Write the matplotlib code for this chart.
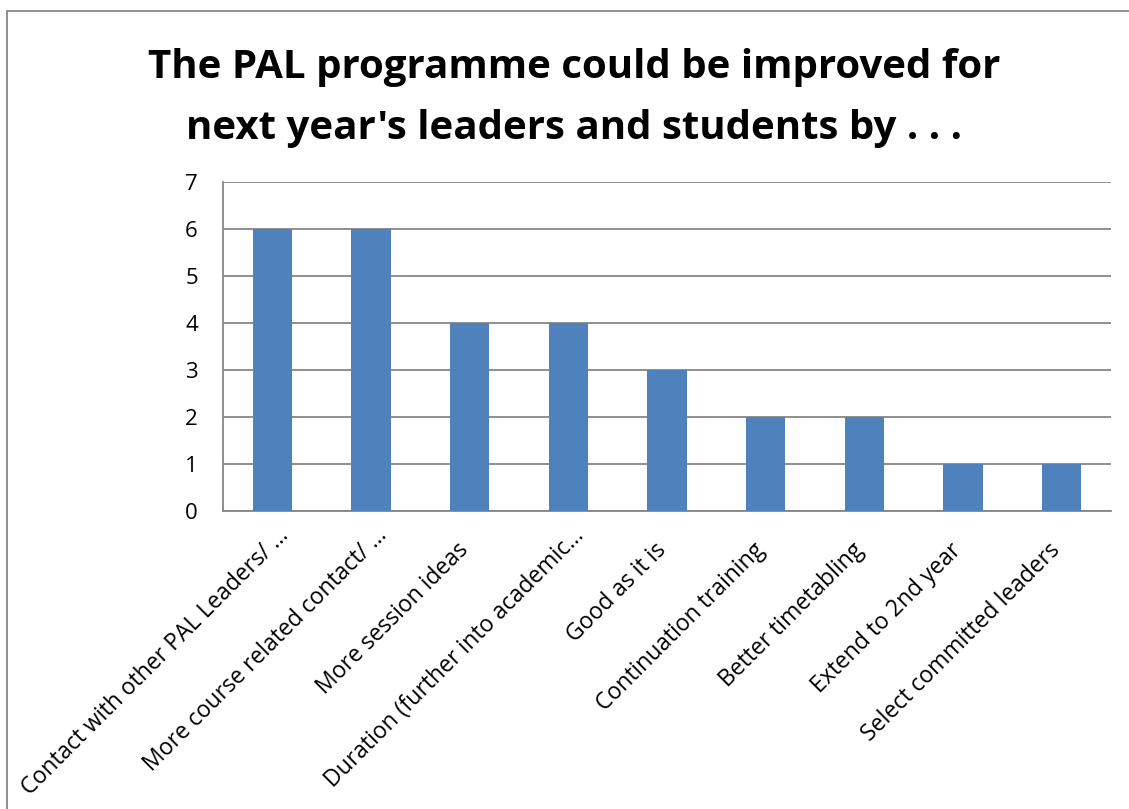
import matplotlib
matplotlib.use("Agg")
import matplotlib.pyplot as plt
from matplotlib.patches import Rectangle
from matplotlib.transforms import ScaledTranslation

categories = [
    "Contact with other PAL Leaders/ …",
    "More course related contact/ …",
    "More session ideas",
    "Duration (further into academic…",
    "Good as it is",
    "Continuation training",
    "Better timetabling",
    "Extend to 2nd year",
    "Select committed leaders",
]
responses = [6, 6, 4, 4, 3, 2, 2, 1, 1]
y_ticks = [0, 1, 2, 3, 4, 5, 6, 7]
title = "The PAL programme could be improved for\nnext year's leaders and students by . . ."

plt.rcParams["font.family"] = ["Open Sans", "DejaVu Sans"]

W, H = 1129, 809
fig = plt.figure(figsize=(W / 100, H / 100), dpi=100)

# outer chart border (open at right and bottom)
fig.add_artist(Rectangle((7 / W, -0.1), 1.2, (H - 11) / H + 0.1,
                         transform=fig.transFigure, fill=False,
                         edgecolor="#868686", linewidth=1.3))

ax = fig.add_axes([223 / W, 1 - 511 / H, (1111 - 223) / W, (511 - 182) / H])
x = range(len(categories))
ax.bar(x, responses, width=0.4, color="#4F81BD", zorder=3)
ax.set_xlim(-0.5, len(categories) - 0.5)
ax.set_ylim(0, 7)
ax.set_yticks(y_ticks)
ax.yaxis.grid(True, color="#868686", linewidth=1.3, zorder=0)
ax.tick_params(axis="y", length=0, labelsize=16, pad=18)
ax.tick_params(axis="x", length=0, labelsize=16.5, pad=6)
ax.set_xticks(list(x))
ax.set_xticklabels(categories, rotation=45, ha="right", rotation_mode="anchor")
for lbl in ax.get_xticklabels():
    # truncated labels sit a little further up and to the right
    if lbl.get_text().endswith("…"):
        dx, dy = 4, -4
    else:
        dx, dy = -13, -19
    shift = ScaledTranslation(dx / 100, dy / 100, fig.dpi_scale_trans)
    lbl.set_transform(lbl.get_transform() + shift)
for s in ["top", "right"]:
    ax.spines[s].set_visible(False)
ax.spines["left"].set_color("#868686")
ax.spines["left"].set_linewidth(1.3)
ax.spines["bottom"].set_color("#868686")
ax.spines["bottom"].set_linewidth(1.3)

fig.text(574 / W, 1 - 98 / H, title, ha="center", va="center",
         fontsize=29, fontweight="bold", linespacing=1.75)

fig.savefig("out.png", dpi=100)
